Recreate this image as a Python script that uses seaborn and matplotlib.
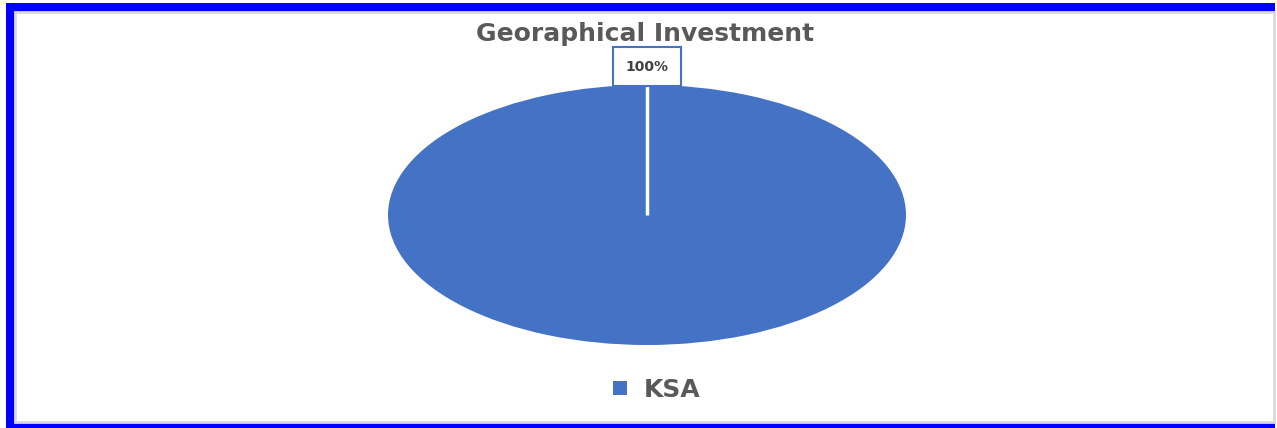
import numpy as np
import matplotlib
matplotlib.use("Agg")
import matplotlib.pyplot as plt
from matplotlib.patches import Rectangle
import seaborn as sns

# ===================== Data =====================
regions = ["KSA"]
shares = [100]
title = "Georaphical Investment"

# ===================== Style =====================
sns.set_theme(style="white")
plt.rcParams['font.family'] = ['DejaVu Sans']
palette = sns.color_palette(["#4472C4"])

W, H = 1277, 428
fig = plt.figure(figsize=(W / 100, H / 100), dpi=100)

# frame: blue band on top / left / bottom, light grey inner border
def px_rect(x0, y0, x1, y1, **kw):
    return Rectangle((x0 / W, 1 - y1 / H), (x1 - x0) / W, (y1 - y0) / H,
                     transform=fig.transFigure, **kw)

fig.patches.append(px_rect(6, 3, 1275, H, facecolor="#0000FF", edgecolor="none", zorder=0))
fig.patches.append(px_rect(15, 12, 1274, 422, facecolor="white",
                           edgecolor="#D9D9D9", linewidth=2, zorder=1))

# ===================== Pie (stretched ellipse) =====================
ax = fig.add_axes([388 / W, 1 - 345 / H, 518 / W, 260 / H])
ax.set_zorder(3)
start = 90
wedges, _ = ax.pie(shares, colors=palette, startangle=start,
                   wedgeprops=dict(edgecolor="none"))
ax.set_xlim(-1, 1)
ax.set_ylim(-1, 1)
ax.set_aspect("auto")
ax.axis("off")

# white slice border from centre to the start angle
a = np.deg2rad(start)
ax.plot([0, np.cos(a)], [0, np.sin(a)], color="white", lw=2.5, solid_capstyle="butt")

# data label above the pie
ax.text(0, 1.14, f"{shares[0] / sum(shares):.0%}", ha="center", va="center",
        fontsize=10, fontweight="bold", color="#404040", clip_on=False,
        bbox=dict(boxstyle="square,pad=0.9", facecolor="white", edgecolor="#4472C4", lw=1.5))

t = fig.text(645 / W, 1 - 34 / H, title, ha="center", va="center",
             fontsize=18, fontweight="bold", color="#595959")
t.set_zorder(4)

leg = fig.legend(wedges, regions, loc="center", bbox_to_anchor=(657 / W, 1 - 390 / H),
                 frameon=False, handlelength=0.55, handleheight=0.45,
                 handletextpad=0.7, labelcolor="#595959", prop=dict(weight="bold", size=18))
leg.set_zorder(4)

fig.savefig("out.png", dpi=100)
